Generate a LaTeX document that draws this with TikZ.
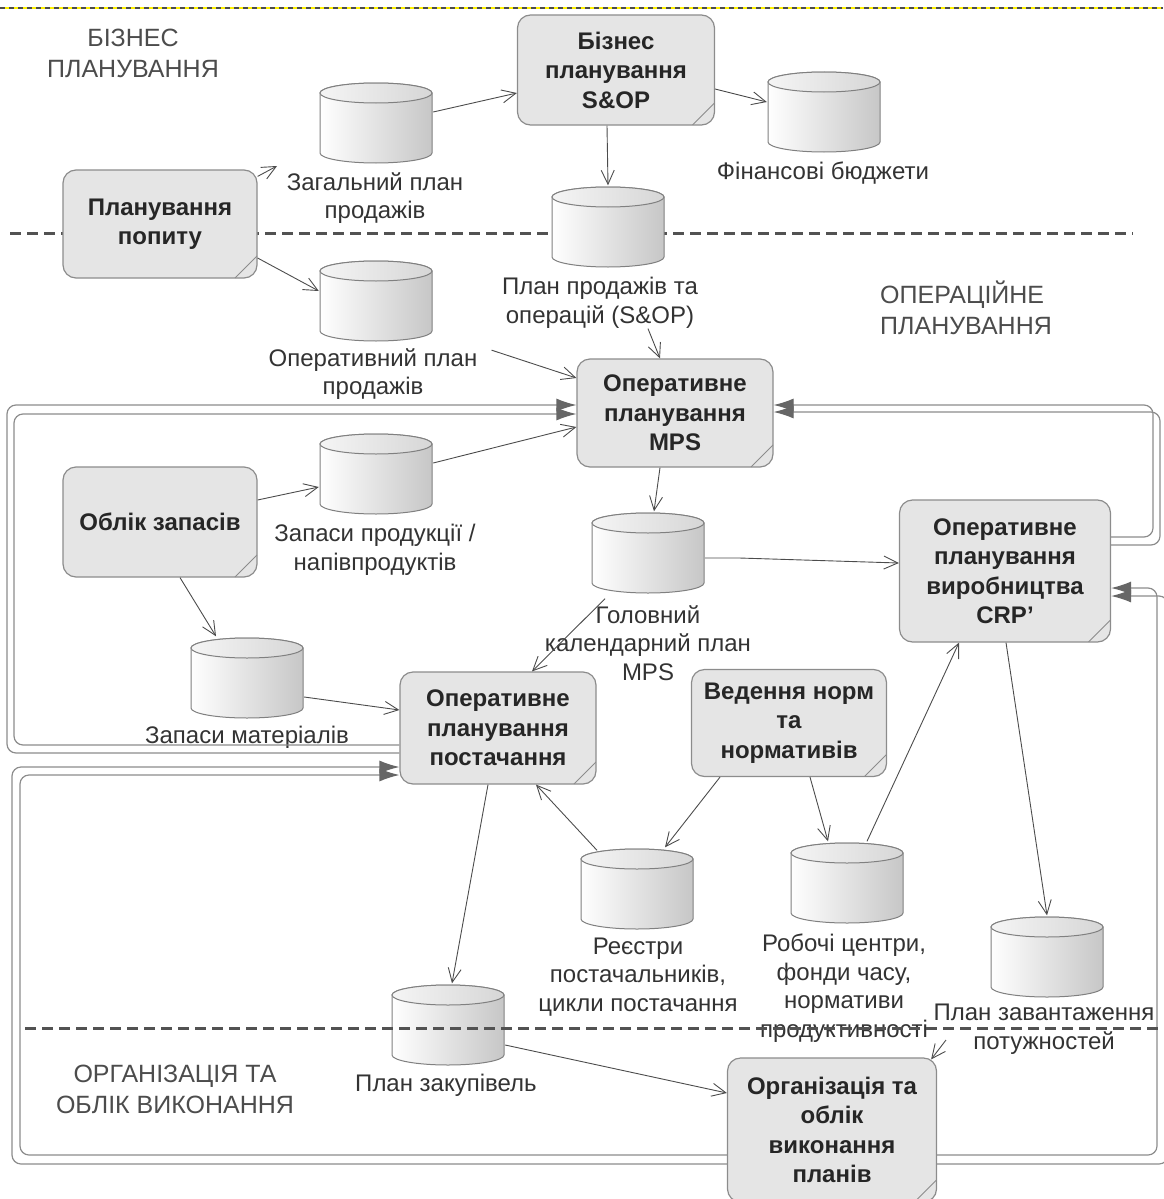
\documentclass[tikz,border=0pt]{standalone}
\usepackage{fontspec}
\setmainfont{Liberation Sans}
\usetikzlibrary{shapes.geometric}
\usetikzlibrary{arrows.meta}
\usetikzlibrary{positioning}

\begin{document}
\begin{tikzpicture}[x=1pt, y=-1pt, font=\fontsize{24}{28.5}\selectfont,
    proc/.style={rectangle, rounded corners=13pt, draw=black!45, fill=black!10, line width=1.2pt, align=center, inner sep=0pt, text=black!85,
      font=\fontsize{24}{29.5}\selectfont\bfseries,
      path picture={\draw[black!45, line width=0.8pt] ([xshift=-22pt]path picture bounding box.south east) -- ([yshift=22pt]path picture bounding box.south east);}},
    store/.style={rectangle, minimum width=114pt, minimum height=83pt, inner sep=0pt,
      path picture={
        \coordinate (pc) at (path picture bounding box.center);
        \shadedraw[left color=white, right color=black!22, draw=black!50, line width=1pt]
          ([xshift=-56pt,yshift=30pt]pc) -- ([xshift=-56pt,yshift=-30pt]pc)
          arc[start angle=180, end angle=360, x radius=56pt, y radius=10pt]
          -- ([xshift=56pt,yshift=30pt]pc)
          arc[start angle=0, end angle=180, x radius=56pt, y radius=10pt] -- cycle;
        \shadedraw[left color=black!4, right color=black!16, draw=black!50, line width=1pt] ([yshift=30pt]pc) ellipse [x radius=56pt, y radius=10pt];
      }}]
  \tikzstyle{lbl}=[align=center, inner sep=0pt, text=black!80]
  \tikzstyle{sect}=[align=center, inner sep=0pt, text=black!70, font=\fontsize{25}{31}\selectfont]
  \tikzstyle{flow}=[draw=black!70, line width=0.9pt, -{Straight Barb[length=14pt, width=13pt, line width=0.9pt]}]
  \tikzstyle{fb}=[draw=black!45, line width=1.2pt, rounded corners=9pt, -{Latex[length=20pt, width=13pt, color=black!60]}]
  \tikzstyle{sep}=[draw=black!68, line width=3pt, dash pattern=on 11pt off 6pt]

  \useasboundingbox (0,0) rectangle (1163,1199);

  % Draw frame edge and upper separator
  \draw[yellow, line width=1.5pt] (0,8) -- (1163,8);
  \draw[black!70, line width=1.5pt, dash pattern=on 5pt off 4pt] (0,8) -- (1163,8);
  \draw[sep] (10,233) -- (1133,233);

  % Draw section titles
  \node[sect] (bizt) at (133,53) {БІЗНЕС\\ПЛАНУВАННЯ};
  \node[sect, anchor=west, align=left] (opert) at (880,308) {ОПЕРАЦІЙНЕ\\ПЛАНУВАННЯ};
  \node[sect] (orgt) at (175,1089) {ОРГАНІЗАЦІЯ ТА\\ОБЛІК ВИКОНАННЯ};

  % Draw processes
  \node[proc, minimum width=197pt, minimum height=110pt] (bsop) at (616,70) {Бізнес\\планування\\S\&OP};
  \node[proc, minimum width=194pt, minimum height=108pt] (demand) at (160,224) {Планування\\попиту};
  \node[proc, minimum width=196pt, minimum height=108pt] (mps) at (675,413) {Оперативне\\планування\\MPS};
  \node[proc, minimum width=194pt, minimum height=110pt] (inv) at (160,522) {Облік запасів};
  \node[proc, minimum width=211pt, minimum height=142pt] (crp) at (1005,571) {Оперативне\\планування\\виробництва\\CRP'};
  \node[proc, minimum width=196pt, minimum height=112pt] (supply) at (498,728) {Оперативне\\планування\\постачання};
  \node[proc, minimum width=195pt, minimum height=107pt] (norms) at (789,723) {Ведення норм\\та\\нормативів};
  \node[proc, minimum width=209pt, minimum height=144pt] (exec) at (832,1130) {Організація та\\облік\\виконання\\планів};

  % Draw data stores
  \node[store] (zag) at (376,123) {};
  \node[store] (fin) at (824,112) {};
  \node[store] (sop) at (608,227) {};
  \node[store] (opl) at (376,301) {};
  \node[store] (zp) at (376,474) {};
  \node[store] (gkp) at (648,553) {};
  \node[store] (zm) at (247,678) {};
  \node[store] (reg) at (637,889) {};
  \node[store] (rc) at (847,883) {};
  \node[store] (pz) at (1047,957) {};
  \node[store] (pzak) at (448,1025) {};

  % Draw store labels
  \node[lbl] (zaglbl) at (375,198) {Загальний план\\продажів};
  \node[lbl] (finlbl) at (823,173) {Фінансові бюджети};
  \node[lbl] (soplbl) at (600,303) {План продажів та\\операцій (S\&OP)};
  \node[lbl] (opllbl) at (373,374) {Оперативний план\\продажів};
  \node[lbl] (zplbl) at (375,550) {Запаси продукції /\\напівпродуктів};
  \node[lbl] (gkplbl) at (648,643) {Головний\\календарний план\\MPS};
  \node[lbl] (zmlbl) at (247,737) {Запаси матеріалів};
  \node[lbl] (reglbl) at (638,977) {Реєстри\\постачальників,\\цикли постачання};
  \node[lbl] (rclbl) at (844,988) {Робочі центри,\\фонди часу,\\нормативи\\продуктивності};
  \node[lbl] (pzlbl) at (1044,1029) {План завантаження\\потужностей};
  \node[lbl] (pzaklbl) at (446,1085) {План закупівель};

  \coordinate (zagin) at (277,166);
  \coordinate (pzout) at (946,1040);

  % Draw feedback loops
  \draw[fb] ([yshift=-17pt]supply.west) -- (14,745) -- (14,414) -- ([yshift=-1pt]mps.west);
  \draw[fb] ([yshift=-25pt]supply.west) -- (7,753) -- (7,405) -- ([yshift=8pt]mps.west);
  \draw[fb] ([yshift=-34pt]exec.west) -- (12,1164) -- (12,767) -- ([yshift=-39pt]supply.west);
  \draw[fb] ([yshift=-25pt]exec.west) -- (20,1155) -- (20,775) -- ([yshift=-47pt]supply.west);
  \draw[fb] ([yshift=34pt]crp.east) -- (1153,537) -- (1153,405) -- ([yshift=8pt]mps.east);
  \draw[fb] ([yshift=26pt]crp.east) -- (1160,545) -- (1160,412) -- ([yshift=1pt]mps.east);
  \draw[fb] ([yshift=-25pt]exec.east) -- (1157,1155) -- (1157,588) -- ([yshift=-17pt]crp.east);
  \draw[fb] ([yshift=-34pt]exec.east) -- (1168,1164) -- (1168,596) -- ([yshift=-25pt]crp.east);

  % Draw flows
  \draw[flow] ([yshift=-7pt]demand.north east) -- (zagin);
  \draw[flow] ([yshift=11pt]zag.east) -- ([yshift=-23pt]bsop.west);
  \draw[flow] ([yshift=-19pt]bsop.east) -- ([yshift=10pt]fin.west);
  \draw[flow] ([xshift=-9pt]bsop.south) -- (sop.north);
  \draw[flow] ([yshift=-34pt]demand.east) -- ([yshift=10pt]opl.west);
  \draw[flow] ([xshift=14pt,yshift=-2pt]opllbl.north east) -- ([yshift=35pt]mps.west);
  \draw[flow] ([xshift=48pt]soplbl.south) -- ([xshift=-15pt]mps.north);
  \draw[flow] ([yshift=11pt]zp.east) -- ([yshift=-14pt]mps.west);
  \draw[flow] ([yshift=22pt]inv.east) -- ([yshift=-13pt]zp.west);
  \draw[flow] ([xshift=20pt]inv.south) -- ([xshift=-31pt]zm.north);
  \draw[flow] ([yshift=-19pt]zm.east) -- ([yshift=18pt]supply.west);
  \draw[flow] ([xshift=-15pt]mps.south) -- ([xshift=6pt]gkp.north);
  \draw[flow] ([yshift=-5pt]gkp.east) -- ([xshift=34pt,yshift=-5pt]gkp.east) -- ([yshift=8pt]crp.west);
  \draw[flow] ([xshift=-43pt,yshift=-4pt]gkp.south) -- ([xshift=34pt]supply.north);
  \draw[flow] ([xshift=-40pt,yshift=-3pt]reg.north) -- ([xshift=38pt]supply.south);
  \draw[flow] ([xshift=-69pt]norms.south) -- ([xshift=28pt]reg.north);
  \draw[flow] ([xshift=21pt]norms.south) -- ([xshift=-19pt]rc.north);
  \draw[flow] ([xshift=20pt]rc.north) -- ([xshift=-46pt]crp.south);
  \draw[flow] ([xshift=1pt]crp.south) -- (pz.north);
  \draw[flow] ([xshift=-10pt]supply.south) -- ([xshift=4pt]pzak.north);
  \draw[flow] ([yshift=-20pt]pzak.east) -- ([yshift=37pt]exec.west);
  \draw[flow] (pzout) -- ([xshift=-6pt,yshift=-2pt]exec.north east);

  % Draw lower separator
  \draw[sep] (25,1028) -- (1163,1028);
\end{tikzpicture}
\end{document}
